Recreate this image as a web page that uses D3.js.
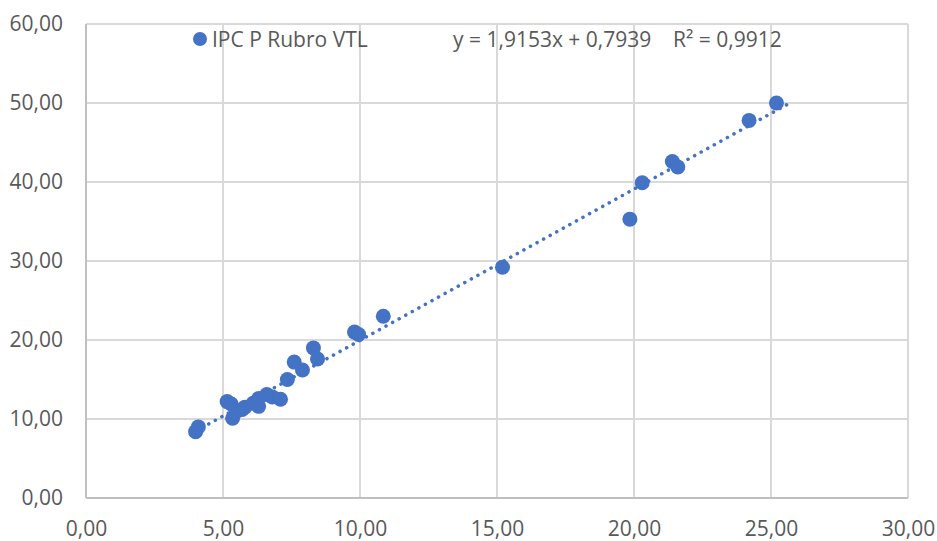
<!DOCTYPE html>
<html>
<head>
<meta charset="utf-8">
<script src="https://cdn.jsdelivr.net/npm/d3@7"></script>
<style>
  body { margin: 0; background: #fff; }
  text { font-family: "Open Sans", "Liberation Sans", sans-serif; fill: #595959; }
</style>
</head>
<body>
<div id="chart"></div>
<script>
// IPC P Rubro VTL: x vs y values
const xValues = [4.0, 4.1, 5.15, 5.3, 5.35, 5.5, 5.7, 5.8, 6.1, 6.3, 6.3, 6.6, 6.8, 7.1,
  7.35, 7.6, 7.9, 8.3, 8.45, 9.8, 9.95, 10.85, 15.2, 19.85, 20.3, 21.4, 21.6, 24.2, 25.2]
const yValues = [8.4, 9.0, 12.2, 11.9, 10.1, 11.0, 11.2, 11.5, 12.0, 11.6, 12.6, 13.1, 12.8, 12.5,
  15.0, 17.2, 16.2, 19.0, 17.6, 21.0, 20.7, 23.0, 29.2, 35.3, 39.9, 42.6, 41.9, 47.8, 50.0]
const xTicks = [0, 5, 10, 15, 20, 25, 30]
const yTicks = [0, 10, 20, 30, 40, 50, 60]
const slope = 1.9153, intercept = 0.7939
const trendRange = [4.0, 25.75]
const seriesName = "IPC P Rubro VTL"
const equation = "y = 1,9153x + 0,7939    R² = 0,9912"

const width = 937, height = 541
const margin = {top: 24, right: 29, bottom: 43, left: 86}
const fmt = d => d3.format(".2f")(d).replace(".", ",")

const x = d3.scaleLinear().domain([0, 30]).range([margin.left, width - margin.right])
const y = d3.scaleLinear().domain([0, 60]).range([height - margin.bottom, margin.top])

const svg = d3.select("#chart").append("svg")
    .attr("width", width)
    .attr("height", height)

// grid
svg.append("g")
  .selectAll("line.v")
  .data(xTicks)
  .join("line")
    .attr("x1", d => x(d)).attr("x2", d => x(d))
    .attr("y1", y(0)).attr("y2", y(60))
    .style("stroke", "#d9d9d9")
    .style("stroke-width", 2)

svg.append("g")
  .selectAll("line.h")
  .data(yTicks)
  .join("line")
    .attr("x1", x(0)).attr("x2", x(30))
    .attr("y1", d => y(d)).attr("y2", d => y(d))
    .style("stroke", "#d9d9d9")
    .style("stroke-width", 2)

// axes lines
svg.append("line")
    .attr("x1", x(0)).attr("x2", x(30)).attr("y1", y(0)).attr("y2", y(0))
    .style("stroke", "#bfbfbf").style("stroke-width", 2)
svg.append("line")
    .attr("x1", x(0)).attr("x2", x(0)).attr("y1", y(0)).attr("y2", y(60))
    .style("stroke", "#bfbfbf").style("stroke-width", 2)

// tick labels
const xAxis = svg.append("g")
    .attr("transform", "translate(0," + (y(0) + 20) + ")")
    .call(d3.axisBottom(x).tickValues(xTicks).tickFormat(fmt).tickSize(0))
xAxis.select(".domain").remove()
xAxis.selectAll("text").style("font-size", "21px").style("fill", "#595959")

const yAxis = svg.append("g")
    .attr("transform", "translate(" + (x(0) - 20) + ",0)")
    .call(d3.axisLeft(y).tickValues(yTicks).tickFormat(fmt).tickSize(0))
yAxis.select(".domain").remove()
yAxis.selectAll("text").style("font-size", "21px").style("fill", "#595959")

// trend line
svg.append("line")
    .attr("x1", x(trendRange[0])).attr("y1", y(slope * trendRange[0] + intercept))
    .attr("x2", x(trendRange[1])).attr("y2", y(slope * trendRange[1] + intercept))
    .style("stroke", "#4472c4")
    .style("stroke-width", 3.5)
    .style("stroke-linecap", "round")
    .style("stroke-dasharray", "0.1 7.4")

// points
svg.append("g")
  .selectAll("circle")
  .data(xValues.map((d, i) => [d, yValues[i]]))
  .join("circle")
    .attr("cx", d => x(d[0]))
    .attr("cy", d => y(d[1]))
    .attr("r", 7.5)
    .style("fill", "#4472c4")

// legend
svg.append("circle")
    .attr("cx", 200).attr("cy", 39).attr("r", 7)
    .style("fill", "#4472c4")
svg.append("text")
    .attr("x", 212).attr("y", 47)
    .style("font-size", "21px")
    .text(seriesName)
svg.append("text")
    .attr("x", 453).attr("y", 47)
    .style("font-size", "21px")
    .attr("xml:space", "preserve")
    .style("white-space", "pre")
    .text(equation)
</script>
</body>
</html>
